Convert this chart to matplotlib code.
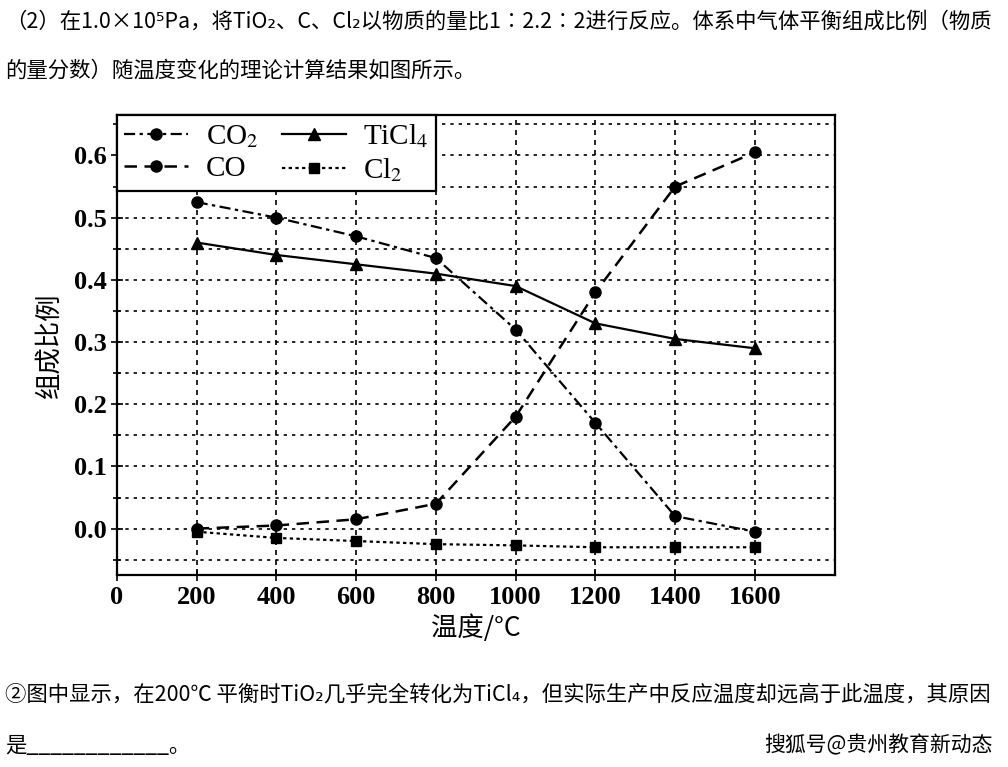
import matplotlib.pyplot as plt
import numpy as np

# 数据: 温度 / 组成比例
temps = [200, 400, 600, 800, 1000, 1200, 1400, 1600]
co2 = [0.525, 0.50, 0.47, 0.435, 0.32, 0.17, 0.02, -0.005]
co = [0.0, 0.005, 0.015, 0.04, 0.18, 0.38, 0.55, 0.605]
ticl4 = [0.46, 0.44, 0.425, 0.41, 0.39, 0.33, 0.305, 0.29]
cl2 = [-0.005, -0.015, -0.02, -0.025, -0.027, -0.03, -0.03, -0.03]

xticks = [0, 200, 400, 600, 800, 1000, 1200, 1400, 1600]
yticks = [0.0, 0.1, 0.2, 0.3, 0.4, 0.5, 0.6]

cjk = ['Noto Sans CJK SC', 'DejaVu Sans']
plt.rcParams['mathtext.fontset'] = 'stix'
plt.rcParams['font.family'] = ['Liberation Serif', 'DejaVu Serif']

fig = plt.figure(figsize=(10.08, 7.67), dpi=100)
ax = fig.add_axes([0.116, 0.25, 0.712, 0.60])

ax.plot(temps, co2, color='black', ls=(0, (5, 2, 1.5, 2)), lw=1.6, marker='o', ms=8, label='CO$_2$')
ax.plot(temps, co, color='black', ls=(0, (5, 3)), lw=1.8, marker='o', ms=8, label='CO')
ax.plot(temps, ticl4, color='black', ls='-', lw=1.6, marker='^', ms=8, label='TiCl$_4$')
ax.plot(temps, cl2, color='black', ls=(0, (1.5, 1.5)), lw=1.6, marker='s', ms=7, label='Cl$_2$')

ax.set_xlim(0, 1800)
ax.set_ylim(-0.075, 0.665)
ax.set_xticks(xticks)
ax.set_yticks(yticks)
ax.set_yticklabels(['%.1f' % v for v in yticks])
ax.set_yticks(np.arange(-0.05, 0.66, 0.05), minor=True)
ax.tick_params(axis='both', labelsize=19, direction='inout', length=8, width=1.2)
ax.tick_params(axis='y', which='minor', direction='inout', length=6, width=1.2)
for lab in ax.get_xticklabels() + ax.get_yticklabels():
    lab.set_fontweight('bold')

# 网格
for t in temps:
    ax.axvline(t, color='black', ls=(0, (3, 3)), lw=1.2, zorder=0)
for y in np.arange(-0.05, 0.66, 0.05):
    ax.axhline(y, color='black', ls=(0, (2, 3)), lw=1.2, zorder=0)

for s in ax.spines.values():
    s.set_linewidth(1.6)

ax.set_xlabel('温度/°C', family=cjk, fontsize=19, labelpad=4)
ax.set_ylabel('组成比例', family=cjk, fontsize=19, labelpad=8)

leg = ax.legend(loc='upper left', ncol=2, fontsize=21, frameon=True, fancybox=False,
                edgecolor='black', borderaxespad=0, handlelength=2.2, columnspacing=0.8,
                labelspacing=0.2, borderpad=0.25, handletextpad=0.6)
leg.get_frame().set_linewidth(1.6)
leg.get_frame().set_alpha(1)

# 题目文字
fig.text(0.005, 0.972, '（2）在1.0×10⁵Pa，将TiO₂、C、Cl₂以物质的量比1∶2.2∶2进行反应。体系中气体平衡组成比例（物质',
         family=cjk, fontsize=15.4, va='center')
fig.text(0.005, 0.908, '的量分数）随温度变化的理论计算结果如图所示。', family=cjk, fontsize=15.4, va='center')
fig.text(0.005, 0.094, '②图中显示，在200℃ 平衡时TiO₂几乎完全转化为TiCl₄，但实际生产中反应温度却远高于此温度，其原因',
         family=cjk, fontsize=15.4, va='center')
fig.text(0.005, 0.028, '是____________。', family=cjk, fontsize=15.4, va='center')
fig.text(0.985, 0.028, '搜狐号@贵州教育新动态', family=cjk, fontsize=15, va='center', ha='right')

plt.savefig('out.png', dpi=100)
